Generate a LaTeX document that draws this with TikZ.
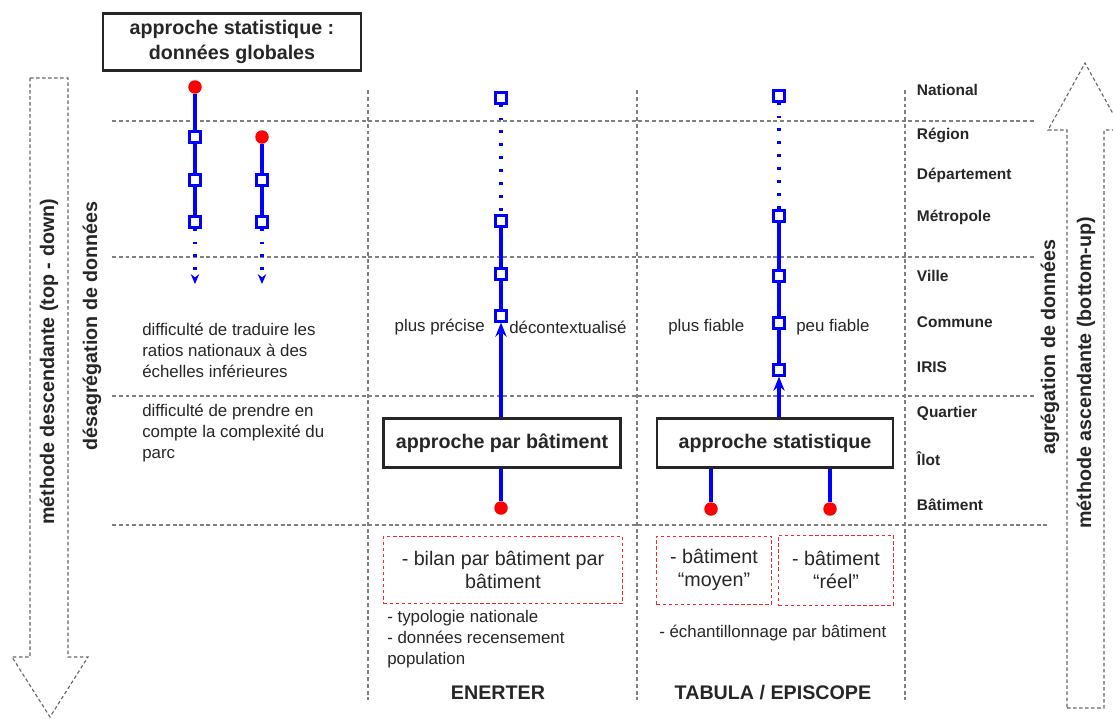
\documentclass[tikz,border=0pt]{standalone}
\usepackage{fontspec}
\setmainfont{Liberation Sans}
\usetikzlibrary{arrows.meta}

\begin{document}
\begin{tikzpicture}[x=0.025cm,y=-0.025cm,
   every node/.style={text=black!85},
   lvl/.style={anchor=west,font=\bfseries\fontsize{11}{13}\selectfont},
   txt/.style={anchor=west,align=left,inner sep=0pt,font=\fontsize{12}{15}\selectfont},
   sq/.style={draw=blue,fill=white,line width=2.2pt,minimum size=7.2pt,inner sep=0pt},
   pt/.style={circle,fill=red,minimum size=9.6pt,inner sep=0pt},
   link/.style={blue,line width=2.6pt},
   dots/.style={blue,line width=2.6pt,dash pattern=on 1.8pt off 7.4pt},
   grid/.style={gray,line width=0.8pt,dash pattern=on 2.8pt off 2pt},
   hollow/.style={gray!80!black,line width=0.8pt,dash pattern=on 2.5pt off 1.8pt},
   titlebox/.style={draw=black!85,line width=1.7pt,align=center,font=\bfseries\fontsize{14}{18}\selectfont},
   redbox/.style={draw=red!85,line width=0.7pt,dash pattern=on 2.5pt off 1.8pt,align=center,font=\fontsize{14}{16}\selectfont}]
\useasboundingbox (0,0) rectangle (1113,718);
\clip (0,0) rectangle (1113,718);

% grid
\draw[grid] (112,121) -- (1035,121);
\draw[grid] (112,257) -- (1035,257);
\draw[grid] (112,396) -- (1035,396);
\draw[grid] (112,525) -- (1047,525);
\draw[grid] (368,90) -- (368,700);
\draw[grid] (637,90) -- (637,700);
\draw[grid] (905,90) -- (905,700);

% big arrows
\draw[hollow] (30,78) -- (68,78) -- (68,657) -- (88,657) -- (50,717) -- (12,657) -- (30,657) -- cycle;
\draw[hollow] (1067,708) -- (1104,708) -- (1104,130) -- (1122,130) -- (1085,63) -- (1048,130) -- (1067,130) -- cycle;
\node[rotate=90,font=\bfseries\fontsize{14}{16}\selectfont] (TD) at (49,362) {méthode descendante (top - down)};
\node[rotate=90,font=\bfseries\fontsize{14}{16}\selectfont] (DD) at (92,326) {désagrégation de données};
\node[rotate=90,font=\bfseries\fontsize{14}{16}\selectfont] (AD) at (1050,347) {agrégation de données};
\node[rotate=90,font=\bfseries\fontsize{14}{16}\selectfont] (BU) at (1086,373) {méthode ascendante (bottom-up)};

% levels
\node[lvl] (N) at (912,90) {National};
\node[lvl] (R) at (912,135) {Région};
\node[lvl] (D) at (912,175) {Département};
\node[lvl] (M) at (912,217) {Métropole};
\node[lvl] (V) at (912,276) {Ville};
\node[lvl] (C) at (912,322) {Commune};
\node[lvl] (I) at (912,367) {IRIS};
\node[lvl] (Q) at (912,413) {Quartier};
\node[lvl] (L) at (912,459) {Îlot};
\node[lvl] (B) at (912,505) {Bâtiment};

% top - down
\node[titlebox,minimum width=6.45cm,minimum height=1.425cm] (G) at (232,42) {approche statistique :\\données globales};
\node[pt] (a0) at (195,87) {};
\node[sq] (a1) at (195,137) {};
\node[sq] (a2) at (195,180) {};
\node[sq] (a3) at (195,222) {};
\coordinate (a4) at (195,284);
\draw[link] (a0) -- (a1) -- (a2) -- (a3);
\draw[dots,-{Stealth[length=7pt,width=6pt]}] (a3) -- (a4);
\node[pt] (b0) at (262,137) {};
\node[sq] (b1) at (262,180) {};
\node[sq] (b2) at (262,222) {};
\coordinate (b3) at (262,284);
\draw[link] (b0) -- (b1) -- (b2);
\draw[dots,-{Stealth[length=7pt,width=6pt]}] (b2) -- (b3);
\node[txt] (T1) at (142,350) {difficulté de traduire les\\ratios nationaux à des\\échelles inférieures};
\node[txt] (T2) at (142,433) {difficulté de prendre en\\compte la complexité du\\parc};

% ENERTER
\node[sq] (m1) at (501,98) {};
\node[sq] (m2) at (501,221) {};
\node[sq] (m3) at (501,274) {};
\node[sq] (m4) at (501,316) {};
\node[titlebox,minimum width=5.925cm,minimum height=1.225cm] (P) at (502,443) {approche par bâtiment};
\node[pt] (m0) at (501,508) {};
\draw[dots] (m1) -- (m2);
\draw[link] (m2) -- (m3) -- (m4);
\draw[link,-{Stealth[length=10pt,width=8pt]}] (m4 |- P.north) -- (m4);
\draw[link] (m0 |- P.south) -- (m0);
\node[txt,anchor=east] (PP) at (485,327) {plus précise};
\node[txt] (DC) at (509,327) {décontextualisé};
\node[redbox,minimum width=5.975cm,minimum height=1.675cm] (RB1) at (503,570) {- bilan par bâtiment par\\bâtiment};
\node[txt] (T3) at (387,639) {- typologie nationale\\- données recensement\\population};
\node[font=\bfseries\fontsize{14}{16}\selectfont] (EN) at (498,693) {ENERTER};

% TABULA
\node[sq] (r1) at (779,96) {};
\node[sq] (r2) at (779,216) {};
\node[sq] (r3) at (779,276) {};
\node[sq] (r4) at (779,323) {};
\node[sq] (r5) at (779,370) {};
\node[titlebox,minimum width=5.9cm,minimum height=1.225cm] (S) at (775,443) {approche statistique};
\node[pt] (s1) at (711,509) {};
\node[pt] (s2) at (830,509) {};
\draw[dots] (r1) -- (r2);
\draw[link] (r2) -- (r3) -- (r4) -- (r5);
\draw[link,-{Stealth[length=10pt,width=8pt]}] (r5 |- S.north) -- (r5);
\draw[link] (s1 |- S.south) -- (s1);
\draw[link] (s2 |- S.south) -- (s2);
\node[txt] (PF) at (668,327) {plus fiable};
\node[txt] (UF) at (796,327) {peu fiable};
\node[redbox,minimum width=2.875cm,minimum height=1.7cm] (RB2) at (714,570) {- bâtiment\\“moyen”};
\node[redbox,minimum width=2.875cm,minimum height=1.75cm] (RB3) at (836,570) {- bâtiment\\“réel”};
\node[txt] (T4) at (659,633) {- échantillonnage par bâtiment};
\node[font=\bfseries\fontsize{14}{16}\selectfont] (TE) at (773,693) {TABULA / EPISCOPE};
\end{tikzpicture}
\end{document}
